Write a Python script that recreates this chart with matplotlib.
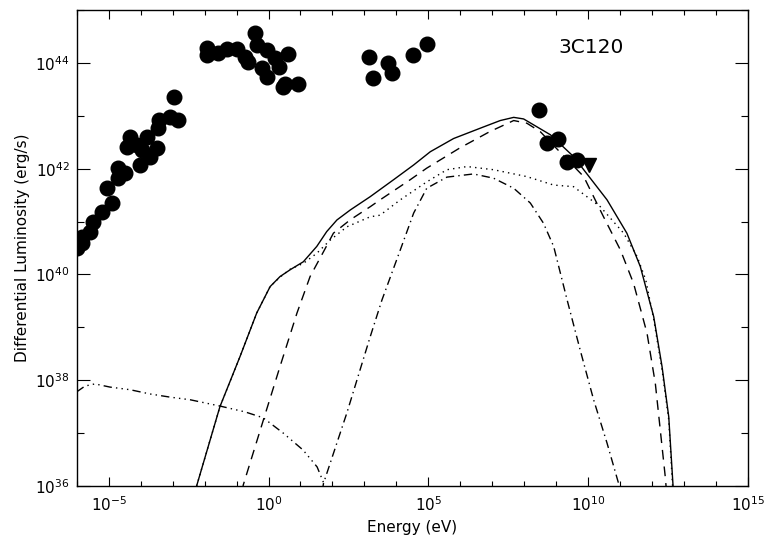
import numpy as np
import matplotlib
matplotlib.use('Agg')
import matplotlib.pyplot as plt
from matplotlib.ticker import NullFormatter

# observed SED points (log10 of energy in eV, log10 of luminosity in erg/s)
obs_logE = [-5.99, -5.83, -5.83, -5.58, -5.49, -5.21, -4.90, -5.05, -4.71, -4.49,
            -4.71, -4.02, -3.71, -4.43, -4.11, -3.95, -3.48, -4.33, -3.80, -3.46,
            -3.42, -3.08, -2.83, -2.96,
            -1.92, -1.92, -1.58, -1.30, -0.98, -0.73, -0.64, -0.42, -0.36, -0.20,
            -0.04, -0.04, 0.21, 0.33, 0.62, 0.52, 0.46, 0.93,
            3.15, 3.75, 3.28, 3.86, 4.52, 4.97,
            8.47, 8.71, 9.07, 9.34, 9.65]
obs_logL = [40.50, 40.60, 40.71, 40.80, 40.99, 41.18, 41.35, 41.64, 41.82, 41.92,
            42.01, 42.07, 42.22, 42.41, 42.45, 42.35, 42.39, 42.60, 42.60, 42.77,
            42.92, 42.98, 42.92, 43.36,
            44.28, 44.15, 44.19, 44.26, 44.26, 44.11, 44.02, 44.57, 44.34, 43.90,
            44.24, 43.73, 44.09, 43.92, 44.17, 43.60, 43.54, 43.60,
            44.12, 43.99, 43.71, 43.80, 44.15, 44.35,
            43.10, 42.48, 42.57, 42.13, 42.16]

# upper limit (down triangle)
ul_logE = [10.01]
ul_logL = [42.07]

# model curves
total_logE = [-2.30, -2.24, -1.52, -0.89, -0.37, 0.05, 0.36, 0.68, 1.09, 1.51, 1.82,
              2.14, 2.56, 3.18, 3.91, 4.54, 5.06, 5.79, 6.73, 7.25, 7.67, 7.98,
              8.40, 8.82, 9.54, 10.59, 11.21, 11.63, 12.05, 12.31, 12.52, 12.65, 12.67]
total_logL = [35.90, 36.02, 37.50, 38.45, 39.27, 39.77, 39.96, 40.09, 40.24, 40.53, 40.81,
              41.03, 41.22, 41.47, 41.79, 42.07, 42.32, 42.57, 42.79, 42.91, 42.97, 42.94,
              42.79, 42.64, 42.23, 41.41, 40.78, 40.15, 39.20, 38.26, 37.31, 36.05, 35.80]

dashed_logE = [-0.82, -0.79, -0.16, 0.36, 0.89, 1.30, 1.72, 2.03, 2.55, 3.18, 3.49,
               4.43, 4.95, 5.98, 6.92, 7.67, 8.08, 8.50, 9.86, 10.48, 11.01, 11.42,
               11.84, 12.10, 12.41, 12.45]
dashed_logL = [35.90, 36.02, 37.25, 38.26, 39.27, 39.96, 40.43, 40.78, 41.03, 41.28, 41.41,
               41.79, 42.01, 42.39, 42.70, 42.91, 42.86, 42.70, 41.85, 41.09, 40.46, 39.83,
               38.89, 37.94, 36.18, 35.90]

dotted_logE = [-2.30, -2.24, -1.52, -0.89, -0.37, 0.05, 0.36, 0.68, 1.09, 1.51, 1.93,
               2.45, 3.18, 3.49, 4.12, 4.95, 5.58, 6.21, 7.04, 8.08, 8.92, 9.54,
               10.38, 11.11, 11.53, 11.80, 12.05, 12.31, 12.52, 12.64, 12.66]
dotted_logL = [35.90, 36.02, 37.50, 38.45, 39.27, 39.77, 39.95, 40.10, 40.21, 40.40, 40.65,
               40.90, 41.09, 41.12, 41.41, 41.75, 41.98, 42.04, 41.98, 41.85, 41.69, 41.66,
               41.28, 40.78, 40.34, 39.90, 39.15, 38.20, 37.25, 36.00, 35.80]

dashdot_logE = [1.68, 1.72, 2.45, 3.18, 3.55, 4.12, 4.54, 4.95, 5.58, 6.41, 7.04,
                7.67, 8.19, 8.60, 8.92, 9.34, 9.75, 10.17, 10.59, 10.95, 11.00]
dashdot_logL = [35.90, 36.05, 37.38, 38.82, 39.52, 40.46, 41.16, 41.63, 41.84, 41.90, 41.82,
                41.63, 41.35, 40.97, 40.53, 39.52, 38.57, 37.63, 36.81, 36.05, 35.90]

sync_logE = [-6.00, -5.74, -5.43, -4.96, -4.33, -3.71, -3.08, -2.45, -1.51, -0.73,
             -0.17, 0.46, 1.08, 1.52, 1.71, 1.77]
sync_logL = [37.78, 37.89, 37.93, 37.87, 37.82, 37.74, 37.68, 37.63, 37.51, 37.40,
             37.29, 37.00, 36.68, 36.36, 36.08, 35.95]

def pw(v):
    return 10.0 ** np.array(v)

plt.rcParams['font.family'] = 'DejaVu Sans'

fig = plt.figure(figsize=(7.65, 5.38), dpi=100)
ax = fig.add_axes([0.1003, 0.0967, 0.8775, 0.8847])

lw = 1.0
ax.plot(pw(total_logE), pw(total_logL), color='k', lw=lw, ls='-')
ax.plot(pw(dashed_logE), pw(dashed_logL), color='k', lw=lw, ls=(0, (7, 5)))
ax.plot(pw(dotted_logE), pw(dotted_logL), color='k', lw=lw, ls=(0, (1, 3)))
ax.plot(pw(dashdot_logE), pw(dashdot_logL), color='k', lw=lw, ls=(0, (6, 3, 1, 3)))
ax.plot(pw(sync_logE), pw(sync_logL), color='k', lw=lw, ls=(0, (6, 3, 1, 3, 1, 3, 1, 3)))

ax.plot(pw(obs_logE), pw(obs_logL), 'o', color='k', ms=10.5)
ax.plot(pw(ul_logE), pw(ul_logL), 'v', color='k', ms=10.5)

ax.set_xscale('log')
ax.set_yscale('log')
ax.set_xlim(1e-6, 1e15)
ax.set_ylim(1e36, 1e45)

ax.set_xticks([10.0 ** k for k in range(-5, 16, 5)])
ax.set_xticks([10.0 ** k for k in range(-6, 16)], minor=True)
ax.set_yticks([10.0 ** k for k in range(36, 46, 2)])
ax.set_yticks([10.0 ** k for k in range(37, 46, 2)], minor=True)
ax.xaxis.set_minor_formatter(NullFormatter())
ax.yaxis.set_minor_formatter(NullFormatter())

ax.tick_params(axis='x', which='major', direction='in', top=True, length=6.8, width=0.8, labelsize=11, pad=7)
ax.tick_params(axis='x', which='minor', direction='in', top=True, length=3.6, width=0.8)
ax.tick_params(axis='y', which='major', direction='in', right=True, length=9.6, width=0.8, labelsize=11, pad=5)
ax.tick_params(axis='y', which='minor', direction='in', right=True, length=4.8, width=0.8)
for s in ax.spines.values():
    s.set_linewidth(1.0)

ax.set_xlabel('Energy (eV)', fontsize=11)
ax.set_ylabel('Differential Luminosity (erg/s)', fontsize=11, labelpad=4)

ax.text(0.717, 0.91, '3C120', transform=ax.transAxes, fontsize=14.5)

fig.savefig('out.png', dpi=100)
